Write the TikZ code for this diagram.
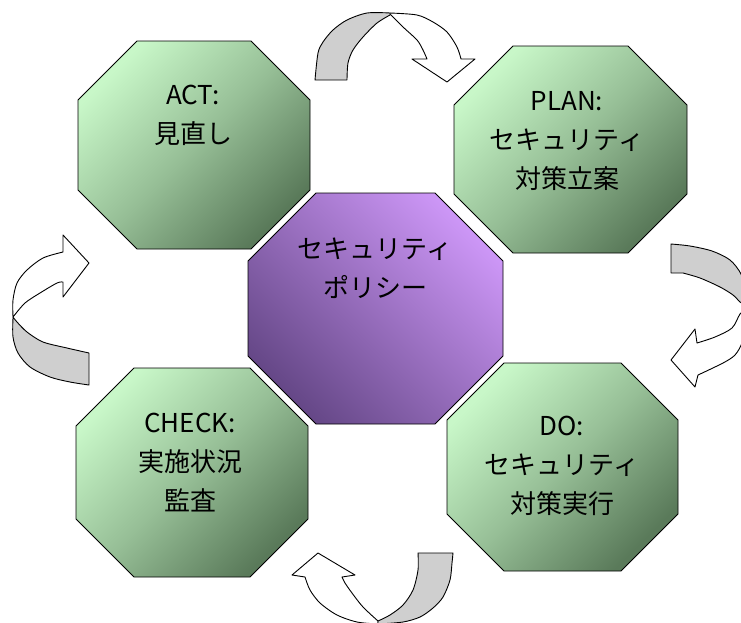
\documentclass[tikz,border=0pt]{standalone}
\usepackage{fontspec}
\setmainfont{Noto Sans CJK JP}
\definecolor{greenlight}{HTML}{C8F7C8}
\definecolor{greendark}{HTML}{5A7A5A}
\definecolor{purplelight}{HTML}{CC96F6}
\definecolor{purpledark}{HTML}{664888}
\definecolor{arrowgray}{HTML}{CFCFCF}
\newcommand\octopath[5]{(#1+#5,#2)--(#3-#5,#2)--(#3,#2+#5)--(#3,#4-#5)--(#3-#5,#4)--(#1+#5,#4)--(#1,#4-#5)--(#1,#2+#5)--cycle}
\tikzset{
  greenocto/.style={draw=black,line width=0.9pt,top color=greenlight,bottom color=greendark,middle color=greenlight!55!greendark,shading angle=45},
  purpleocto/.style={draw=black,line width=0.9pt,top color=purplelight,bottom color=purpledark,shading angle=-45},
  label/.style={align=center,font=\fontsize{26}{39}\selectfont,inner sep=0pt},
  backband/.style={draw=black,line width=0.9pt,fill=arrowgray,line join=round},
  frontband/.style={draw=black,line width=0.9pt,fill=white,line join=round}
}
\begin{document}
\begin{tikzpicture}[x=1pt,y=-1pt]
\useasboundingbox (0,0) rectangle (741,622);
% octagons
\path[greenocto] \octopath{78}{41}{310}{249}{59};
\path[greenocto] \octopath{454}{46}{687}{253}{59};
\path[greenocto] \octopath{447}{363}{678}{571}{57};
\path[greenocto] \octopath{76}{368}{308}{577}{58};
\path[purpleocto] \octopath{248}{193}{503}{424}{68};
% labels
\node[label] (act) at (193,115) {ACT:\\見直し};
\node[label] (plan) at (567,141) {PLAN:\\セキュリティ\\対策立案};
\node[label] (policy) at (375,268) {セキュリティ\\ポリシー};
\node[label] (do) at (562,466) {DO:\\セキュリティ\\対策実行};
\node[label] (check) at (190,463) {CHECK:\\実施状況\\監査};
% top arrow
\draw[frontband] plot[smooth] coordinates {(390,14) (403,27) (417,40) (423,50) (427,59)}
  -- (412,59) -- (447,82) -- (475,59) -- (461,59)
  -- plot[smooth] coordinates {(461,59) (457,47) (447,32) (433,22) (417,15) (390,13)} -- cycle;
\draw[backband] plot[smooth] coordinates {(315,80) (318,53) (323,42) (333,30) (347,20) (367,13) (390,13)}
  -- plot[smooth] coordinates {(390,15) (377,23) (363,37) (353,50) (348,63) (347,80)} -- cycle;
% right arrow
\draw[frontband] plot[smooth] coordinates {(747,308) (740,314) (732,328) (715,337) (697,343)}
  -- (695,329) -- (671,360) -- (695,387) -- (698,375)
  -- plot[smooth] coordinates {(698,375) (723,363) (735,355) (742,343) (747,325) (747,308)} -- cycle;
\draw[backband] plot[smooth] coordinates {(671,244) (690,246) (712,251) (730,260) (741,274) (746,292) (747,306)}
  -- plot[smooth] coordinates {(745,305) (740,302) (733,295) (720,287) (700,278) (683,273)} -- (671,273) -- cycle;
% bottom arrow
\draw[frontband] plot[smooth] coordinates {(378,621) (363,607) (352,593) (345,583) (342,577)}
  -- (355,575) -- (318,553) -- (292,575) -- (305,577)
  -- plot[smooth] coordinates {(305,577) (310,590) (320,603) (337,615) (357,622) (378,624)} -- cycle;
\draw[backband] plot[smooth] coordinates {(418,553) (418,570) (413,590) (403,605) (390,615) (378,621)}
  -- plot[smooth] coordinates {(378,624) (403,622) (420,617) (433,608) (443,597) (450,580) (452,563) (453,553)} -- cycle;
% left arrow
\draw[frontband] plot[smooth] coordinates {(13,317) (25,303) (40,293) (57,283) (63,282)}
  -- (63,297) -- (89,263) -- (63,235) -- (63,252)
  -- plot[smooth] coordinates {(63,252) (43,258) (27,270) (17,283) (13,300) (13,317)} -- cycle;
\draw[backband] plot[smooth] coordinates {(89,353) (67,348) (43,342) (27,332) (17,322) (13,317)}
  -- plot[smooth] coordinates {(13,318) (13,337) (18,353) (30,367) (50,377) (70,382) (89,385)} -- cycle;
\end{tikzpicture}
\end{document}
